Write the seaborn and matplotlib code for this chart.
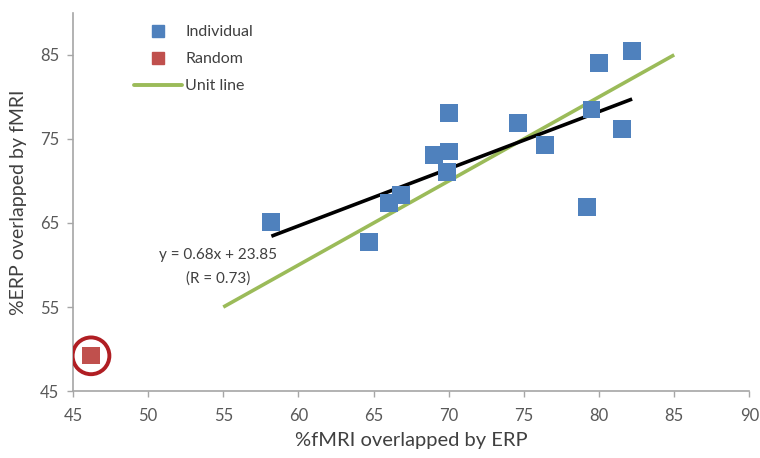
import numpy as np
import pandas as pd
import matplotlib
matplotlib.use("Agg")
import matplotlib.pyplot as plt
import seaborn as sns
from matplotlib.lines import Line2D

# Per-subject overlap percentages
indiv_x = [58.2, 64.7, 66.0, 66.8, 69.0, 69.9, 70.0, 70.0, 74.6, 76.4, 79.2, 79.5, 80.0, 81.5, 82.2]
indiv_y = [65.1, 62.7, 67.4, 68.3, 73.1, 71.1, 73.5, 78.1, 76.9, 74.3, 66.9, 78.5, 84.0, 76.2, 85.5]
# Random baseline
rand_x = [46.2]
rand_y = [49.2]
# Fit reported for the individual data
slope, intercept, r_value = 0.68, 23.85, 0.73
unit_range = [55, 85]
x_ticks = [45, 50, 55, 60, 65, 70, 75, 80, 85, 90]
y_ticks = [45, 55, 65, 75, 85]

sns.set_theme(style="white")
plt.rcParams["font.family"] = ["Lato", "DejaVu Sans"]

blue = "#4F81BD"
red = "#C0504D"
green = "#9BBB59"
text_col = "#404040"

fig = plt.figure(figsize=(7.6, 4.58), dpi=100)
ax = fig.add_axes([0.096, 0.146, 0.890, 0.826])

ind = pd.DataFrame({"x": indiv_x, "y": indiv_y})
rnd = pd.DataFrame({"x": rand_x, "y": rand_y})

# unit line
ax.plot(unit_range, unit_range, color=green, lw=2.6, zorder=1, solid_capstyle="butt")

sns.scatterplot(data=ind, x="x", y="y", marker="s", s=165, color=blue,
                edgecolor="none", ax=ax, zorder=3)
sns.scatterplot(data=rnd, x="x", y="y", marker="s", s=150, color=red,
                edgecolor="none", ax=ax, zorder=3)
# highlight ring around the random baseline
ax.scatter(rand_x, rand_y, marker="o", s=700, facecolors="none",
           edgecolors="#B01E23", linewidths=2.8, zorder=4)

# regression line over the range of the individual data
fx = np.array([min(indiv_x), max(indiv_x)])
ax.plot(fx, slope * fx + intercept, color="black", lw=2.6, zorder=2,
        solid_capstyle="butt")

ax.text(54.65, 61.2, f"y = {slope:.2f}x + {intercept:.2f}", ha="center", va="center",
        fontsize=11, color=text_col)
ax.text(54.65, 58.4, f"(R = {r_value:.2f})", ha="center", va="center",
        fontsize=11, color=text_col)

ax.set_xlim(45, 90)
ax.set_ylim(45, 90)
ax.set_xticks(x_ticks)
ax.set_yticks(y_ticks)
ax.set_xlabel("%fMRI overlapped by ERP", fontsize=14.5, color=text_col, labelpad=6)
ax.set_ylabel("%ERP overlapped by fMRI", fontsize=14, color=text_col, labelpad=9)
ax.tick_params(axis="both", labelsize=12, colors="#595959", length=4,
               width=1, direction="out", color="#a6a6a6", bottom=True, left=True)
ax.tick_params(axis="x", pad=8)
ax.tick_params(axis="y", pad=6)

for side in ["top", "right"]:
    ax.spines[side].set_visible(False)
for side in ["left", "bottom"]:
    ax.spines[side].set_color("#a6a6a6")
    ax.spines[side].set_linewidth(1.2)

handles = [
    Line2D([], [], marker="s", ls="none", color=blue, markersize=8.5),
    Line2D([], [], marker="s", ls="none", color=red, markersize=8.5),
    Line2D([], [], color=green, lw=2.8),
]
leg = ax.legend(handles, ["Individual", "Random", "Unit line"], loc="upper left",
                bbox_to_anchor=(0.069, 1.005), frameon=False, fontsize=11.5,
                handlelength=3.0, handletextpad=0.2, labelspacing=0.8)
for t in leg.get_texts():
    t.set_color(text_col)

fig.savefig("out.png", dpi=100)
